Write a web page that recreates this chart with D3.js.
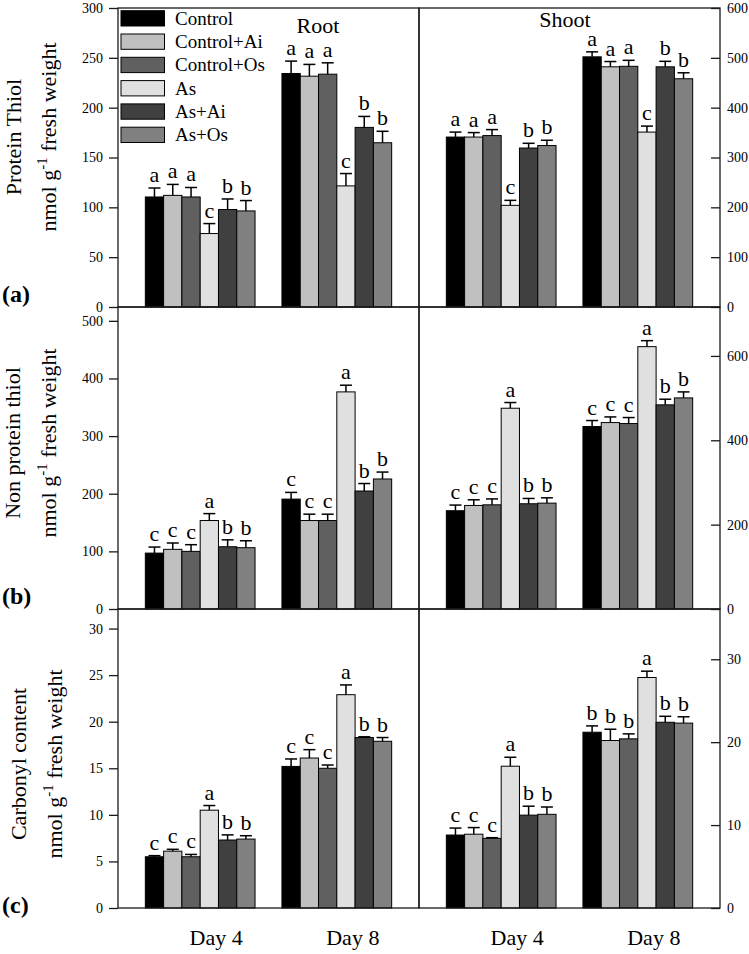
<!DOCTYPE html>
<html><head><meta charset="utf-8">
<script src="https://cdn.jsdelivr.net/npm/d3@7"></script>
<style>
body{margin:0;background:#fff}
svg{display:block;background:#fff}
text{font-family:"Liberation Serif","Times New Roman",Times,serif;fill:#000}
</style>
</head><body>
<svg id="chart" width="749" height="954"></svg>
<script>
// ---------------- data ----------------
const days = ["Day 4", "Day 8"];
const series = ["Control", "Control+Ai", "Control+Os", "As", "As+Ai", "As+Os"];
const colors = ["#000000", "#c0c0c0", "#606060", "#e0e0e0", "#404040", "#808080"];
const tissues = ["Root", "Shoot"];

// (a) Protein thiol  [Day 4, Day 8]
const ptRoot      = [[110.4, 112, 110.4, 73.7, 97.8, 96.4], [234.3, 231.6, 233.6, 121.5, 180.2, 164.8]];
const ptRootErr   = [[9, 11, 9.5, 10, 10.6, 10.4], [12.4, 11.8, 11.4, 12.4, 11, 11.5]];
const ptRootLet   = [["a","a","a","c","b","b"], ["a","a","a","c","b","b"]];
const ptShoot     = [[341, 341, 344, 204, 319, 324], [502, 482, 483, 351, 482, 458]];
const ptShootErr  = [[10, 9, 12, 10, 9.5, 10.6], [10, 10.6, 12, 12, 11, 12]];
const ptShootLet  = [["a","a","a","c","b","b"], ["a","a","a","c","b","b"]];

// (b) Non protein thiol
const nptRoot     = [[97, 103.5, 100, 153.5, 108, 106.4], [190.7, 153.5, 153.5, 376.7, 204.7, 225.6]];
const nptRootErr  = [[10.5, 11, 11.6, 12, 12, 12], [11.6, 11, 11, 11.6, 13, 12]];
const nptRootLet  = [["c","c","c","a","b","b"], ["c","c","c","a","b","b"]];
const nptShoot    = [[233, 245.5, 247, 476, 249.5, 251], [432.6, 442, 439.7, 622, 484, 500.5]];
const nptShootErr = [[13.4, 13.4, 14, 13.5, 12.6, 12.6], [14.2, 13.4, 14.2, 14.2, 13.4, 14.2]];
const nptShootLet = [["c","c","c","a","b","b"], ["c","c","c","a","b","b"]];

// (c) Carbonyl content
const ccRoot      = [[5.5, 6.1, 5.5, 10.5, 7.3, 7.4], [15.2, 16.1, 15.0, 22.9, 18.3, 17.9]];
const ccRootErr   = [[0.12, 0.2, 0.25, 0.5, 0.55, 0.36], [0.8, 0.9, 0.35, 1.05, 0.08, 0.4]];
const ccRootLet   = [["c","c","c","a","b","b"], ["c","c","c","a","b","b"]];
const ccShoot     = [[8.8, 8.9, 8.4, 17.1, 11.2, 11.3], [21.2, 20.2, 20.4, 27.8, 22.4, 22.3]];
const ccShootErr  = [[0.84, 0.8, 0.08, 1.08, 1.08, 0.88], [0.76, 1.36, 0.6, 0.76, 0.72, 0.76]];
const ccShootLet  = [["c","c","c","a","b","b"], ["b","b","b","a","b","b"]];

// axis ranges and tick labels
const ptRootDomain = [0, 300],   ptRootTicks = [0, 50, 100, 150, 200, 250, 300];
const ptShootDomain = [0, 600],  ptShootTicks = [0, 100, 200, 300, 400, 500, 600];
const nptRootDomain = [0, 524],  nptRootTicks = [0, 100, 200, 300, 400, 500];
const nptShootDomain = [0, 716], nptShootTicks = [0, 200, 400, 600];
const ccRootDomain = [0, 32.1],  ccRootTicks = [0, 5, 10, 15, 20, 25, 30];
const ccShootDomain = [0, 36.06], ccShootTicks = [0, 10, 20, 30];

const rowTitles = [["Protein Thiol"], ["Non protein thiol"], ["Carbonyl content"]];
const rowLabels = ["(a)", "(b)", "(c)"];

// ---------------- layout ----------------
const svg = d3.select("#chart");
const xLeft = 118, xMid = 419, xRight = 720;
const rowTop = [8, 307, 609], rowBot = [307, 609, 908];
const FONT = 22;

const rows = [
  [{v: ptRoot, e: ptRootErr, l: ptRootLet, d: ptRootDomain, t: ptRootTicks},
   {v: ptShoot, e: ptShootErr, l: ptShootLet, d: ptShootDomain, t: ptShootTicks}],
  [{v: nptRoot, e: nptRootErr, l: nptRootLet, d: nptRootDomain, t: nptRootTicks},
   {v: nptShoot, e: nptShootErr, l: nptShootLet, d: nptShootDomain, t: nptShootTicks}],
  [{v: ccRoot, e: ccRootErr, l: ccRootLet, d: ccRootDomain, t: ccRootTicks},
   {v: ccShoot, e: ccShootErr, l: ccShootLet, d: ccShootDomain, t: ccShootTicks}]
];

rows.forEach((row, ri) => {
  row.forEach((p, side) => {
    const x0 = side === 0 ? xLeft : xMid;
    const x1 = side === 0 ? xMid : xRight;
    const w = x1 - x0, h = rowBot[ri] - rowTop[ri];
    const g = svg.append("g").attr("transform", `translate(${x0},${rowTop[ri]})`);

    const x = d3.scaleBand().domain(days).range([0, w]).paddingInner(0.197).paddingOuter(0.2);
    const xs = d3.scaleBand().domain(series).range([0, x.bandwidth()]);
    const y = d3.scaleLinear().domain(p.d).range([h, 0]);

    const data = [];
    days.forEach((dname, di) => series.forEach((s, si) => {
      data.push({day: dname, s, si, v: p.v[di][si], e: p.e[di][si], l: p.l[di][si]});
    }));

    // bars
    g.selectAll("rect.bar").data(data).enter().append("rect")
      .attr("class", "bar")
      .attr("x", d => x(d.day) + xs(d.s))
      .attr("width", xs.bandwidth())
      .attr("y", d => y(d.v))
      .attr("height", d => h - y(d.v))
      .attr("fill", d => colors[d.si])
      .attr("stroke", "#000").attr("stroke-width", 1);

    // error bars (upper)
    const capW = 12;
    const eg = g.selectAll("g.err").data(data).enter().append("g").attr("class", "err")
      .attr("stroke", "#000").attr("stroke-width", 1.5);
    eg.append("line")
      .attr("x1", d => x(d.day) + xs(d.s) + xs.bandwidth() / 2)
      .attr("x2", d => x(d.day) + xs(d.s) + xs.bandwidth() / 2)
      .attr("y1", d => y(d.v)).attr("y2", d => y(d.v + d.e));
    eg.append("line")
      .attr("x1", d => x(d.day) + xs(d.s) + xs.bandwidth() / 2 - capW / 2)
      .attr("x2", d => x(d.day) + xs(d.s) + xs.bandwidth() / 2 + capW / 2)
      .attr("y1", d => y(d.v + d.e)).attr("y2", d => y(d.v + d.e));

    // significance letters
    g.selectAll("text.sig").data(data).enter().append("text")
      .attr("class", "sig")
      .attr("x", d => x(d.day) + xs(d.s) + xs.bandwidth() / 2)
      .attr("y", d => y(d.v + d.e) - 6)
      .attr("text-anchor", "middle")
      .attr("font-size", FONT)
      .text(d => d.l);

    // frame
    g.append("rect").attr("x", 0).attr("y", 0).attr("width", w).attr("height", h)
      .attr("fill", "none").attr("stroke", "#1a1a1a").attr("stroke-width", 1.3);

    // axis
    if (side === 0) {
      const ax = d3.axisLeft(y).tickValues(p.t).tickSizeInner(9).tickSizeOuter(0).tickPadding(6);
      const ag = g.append("g").call(ax);
      ag.select(".domain").remove();
      ag.selectAll("line").attr("stroke", "#1a1a1a").attr("stroke-width", 1.3);
      ag.selectAll("text").attr("font-size", 14).attr("fill", "#000");
    } else {
      const ax = d3.axisRight(y).tickValues(p.t).tickSizeInner(-9).tickSizeOuter(0).tickPadding(7);
      const ag = g.append("g").attr("transform", `translate(${w},0)`).call(ax);
      ag.select(".domain").remove();
      ag.selectAll("line").attr("stroke", "#1a1a1a").attr("stroke-width", 1.3);
      ag.selectAll("text").attr("font-size", 14).attr("fill", "#000");
    }

    // day labels on bottom row
    if (ri === 2) {
      g.selectAll("text.day").data(days).enter().append("text")
        .attr("class", "day")
        .attr("x", d => x(d) + x.bandwidth() / 2 + 16)
        .attr("y", 945 - rowTop[ri])
        .attr("text-anchor", "middle")
        .attr("font-size", FONT)
        .text(d => d);
    }
  });
});

// tissue titles
svg.append("text").attr("x", 318).attr("y", 33).attr("text-anchor", "middle").attr("font-size", FONT).text(tissues[0]);
svg.append("text").attr("x", 565).attr("y", 27).attr("text-anchor", "middle").attr("font-size", FONT).text(tissues[1]);

// legend
const lg = svg.append("g");
series.forEach((s, i) => {
  const yy = 10.7 + i * 23.3;
  lg.append("rect").attr("x", 121).attr("y", yy).attr("width", 43.5).attr("height", 15.3)
    .attr("fill", colors[i]).attr("stroke", "#000").attr("stroke-width", 1);
  lg.append("text").attr("x", 175).attr("y", yy + 14).attr("font-size", 19).text(s);
});

// y-axis titles (two lines, rotated)
const titleCenters = [137, 443, 764];
const titleX = [[21, 56], [20, 56], [26, 62]];
rowTitles.forEach((t, ri) => {
  const cy = titleCenters[ri];
  svg.append("text")
    .attr("transform", `translate(${titleX[ri][0]},${cy}) rotate(-90)`)
    .attr("text-anchor", "middle").attr("font-size", FONT).text(t[0]);
  const t2 = svg.append("text")
    .attr("transform", `translate(${titleX[ri][1]},${cy}) rotate(-90)`)
    .attr("text-anchor", "middle").attr("font-size", FONT);
  t2.append("tspan").text("nmol g");
  t2.append("tspan").attr("font-size", 15).attr("dy", -9).text("-1");
  t2.append("tspan").attr("dy", 9).text(" fresh weight");
});

// panel letters
const labelY = [302, 604, 913];
rowLabels.forEach((l, ri) => {
  svg.append("text").attr("x", 2).attr("y", labelY[ri]).attr("font-size", 24)
    .attr("font-weight", "bold").text(l);
});
</script>
</body></html>
